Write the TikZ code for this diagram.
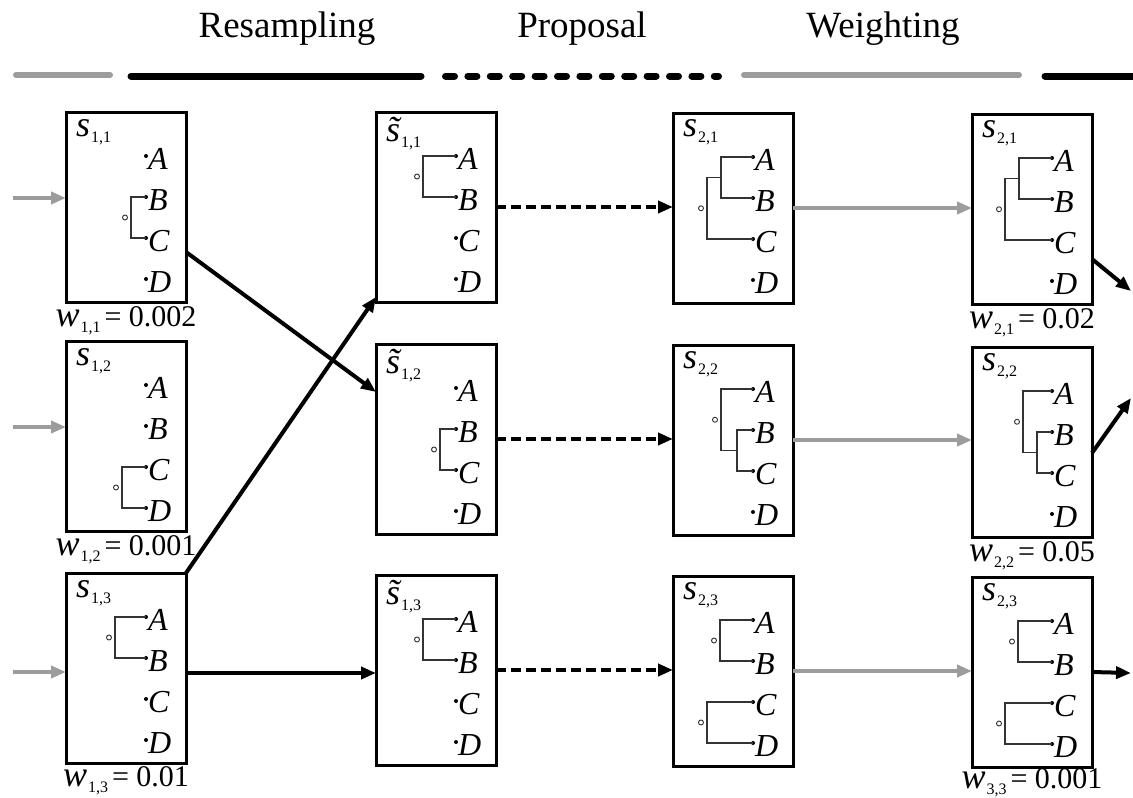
\documentclass[tikz,border=0pt]{standalone}
\usepackage{fontspec}
\setmainfont{Liberation Serif}
\usetikzlibrary{arrows.meta,calc}
\definecolor{lgray}{HTML}{9C9C9C}
\definecolor{tgray}{HTML}{333333}
\tikzset{
 pbox/.style={draw=black, line width=3pt, minimum width=120pt, minimum height=190pt, inner sep=0pt, outer sep=0pt},
 leaftxt/.style={font=\fontsize{32}{32}\selectfont\itshape, inner sep=0pt},
 lbl/.style={inner sep=0pt},
 wl/.style={inner sep=0pt},
 hdr/.style={font=\fontsize{37}{37}\selectfont, inner sep=0pt},
 treeln/.style={draw=tgray, line width=1.5pt},
 rootc/.style={circle, draw=tgray, fill=white, line width=0.9pt, minimum size=5pt, inner sep=0pt},
 grayarrow/.style={draw=lgray, line width=4.5pt, -{Triangle[length=15pt,width=12pt]}},
 blackarrow/.style={draw=black, line width=4pt, -{Triangle[length=15pt,width=12pt]}},
 dasharrow/.style={draw=black, line width=4pt, dash pattern=on 10pt off 5pt, -{Triangle[length=15pt,width=12pt]}},
}
\newcommand\slab[2]{{\fontsize{36}{36}\selectfont\itshape #1}\kern1pt\raisebox{-6pt}{\fontsize{16}{16}\selectfont #2}}
\newcommand\wlab[2]{{\fontsize{36}{36}\selectfont\itshape w}\kern1pt\raisebox{-6pt}{\fontsize{16}{16}\selectfont #1}\kern4pt{\fontsize{30}{30}\selectfont = #2}}
\newcommand\particle[5]{%
 \node[pbox, anchor=north west] (#1) at (#2,#3) {};
 \foreach \L [count=\k from 0] in {A,B,C,D} {
   \coordinate (#1-\L) at (#2+80,#3+44+41*\k);
   \fill[black] (#1-\L) circle (2pt);
   \node[leaftxt, anchor=base west] (#1-t\L) at ([shift={(2,13)}]#1-\L) {\L};
 }
 \node[lbl, anchor=base west] (#1-lab) at (#2+10,#3+#5) {#4};
}
\newcommand\cherry[4]{\draw[treeln] (#1-#2) -- ++(#4-80,0) |- (#1-#3);}
\newcommand\rootnode[5]{\node[rootc] (#1-r#5) at ($(#1-#2)!0.5!(#1-#3)+(#4-80,0)$) {};}
\begin{document}
\begin{tikzpicture}[x=1pt,y=-1pt]
\useasboundingbox[fill=white] (0,0) rectangle (1133,798);
% header
\node[hdr, anchor=base] (h1) at (287,37) {Resampling};
\node[hdr, anchor=base] (h2) at (582,37) {Proposal};
\node[hdr, anchor=base] (h3) at (883,37) {Weighting};
\draw[lgray, line width=6pt, line cap=round] (16,75) -- (110,75);
\draw[black, line width=7pt, line cap=round] (131,76) -- (421,76);
\draw[black, line width=7pt, line cap=round, dash pattern=on 9pt off 13.4pt] (445.5,76) -- (718.5,76);
\draw[lgray, line width=6pt, line cap=round] (744,75) -- (1019,75);
\draw[black, line width=7pt, line cap=round] (1045,76) -- (1140,76);
% particles
\particle{a1}{66}{112}{\slab{s}{1,1}}{24}
\particle{a2}{66}{341}{\slab{s}{1,2}}{24}
\particle{a3}{66}{573}{\slab{s}{1,3}}{24}
\particle{b1}{376}{112}{\slab{\~{s}}{1,1}}{29}
\particle{b2}{376}{344}{\slab{\~{s}}{1,2}}{29}
\particle{b3}{376}{575}{\slab{\~{s}}{1,3}}{29}
\particle{c1}{673}{113}{\slab{s}{2,1}}{23}
\particle{c2}{673}{345}{\slab{s}{2,2}}{23}
\particle{c3}{673}{576}{\slab{s}{2,3}}{23}
\particle{d1}{972}{114}{\slab{s}{2,1}}{23}
\particle{d2}{972}{347}{\slab{s}{2,2}}{23}
\particle{d3}{972}{577}{\slab{s}{2,3}}{23}
% weights
\node[wl, anchor=base] (a1-w) at ([yshift=-24pt]a1.south) {\wlab{1,1}{0.002}};
\node[wl, anchor=base] (a2-w) at ([yshift=-24pt]a2.south) {\wlab{1,2}{0.001}};
\node[wl, anchor=base] (a3-w) at ([yshift=-23pt]a3.south) {\wlab{1,3}{0.01}};
\node[wl, anchor=base] (d1-w) at ([yshift=-24pt]d1.south) {\wlab{2,1}{0.02}};
\node[wl, anchor=base] (d2-w) at ([yshift=-24pt]d2.south) {\wlab{2,2}{0.05}};
\node[wl, anchor=base] (d3-w) at ([yshift=-21pt]d3.south) {\wlab{3,3}{0.001}};
% trees
\cherry{a1}{B}{C}{65}\rootnode{a1}{B}{C}{59}{1}
\cherry{a2}{C}{D}{56}\rootnode{a2}{C}{D}{50}{1}
\cherry{a3}{A}{B}{49}\rootnode{a3}{A}{B}{43}{1}
\cherry{b1}{A}{B}{47}\rootnode{b1}{A}{B}{41}{1}
\cherry{b2}{B}{C}{64}\rootnode{b2}{B}{C}{58}{1}
\cherry{b3}{A}{B}{47}\rootnode{b3}{A}{B}{41}{1}
% ((A,B),C)
\cherry{c1}{A}{B}{48}
\draw[treeln] ($(c1-A)!0.5!(c1-B)+(48-80,0)$) -- ++(34-48,0) |- (c1-C);
\node[rootc] (c1-r1) at ($(c1-A)!1.25!(c1-B)+(28-80,0)$) {};
\cherry{d1}{A}{B}{47}
\draw[treeln] ($(d1-A)!0.5!(d1-B)+(47-80,0)$) -- ++(33-47,0) |- (d1-C);
\node[rootc] (d1-r1) at ($(d1-A)!1.25!(d1-B)+(27-80,0)$) {};
% (A,(B,C))
\cherry{c2}{B}{C}{64}
\draw[treeln] (c2-A) -- ++(48-80,0) |- ($(c2-B)!0.5!(c2-C)+(64-80,0)$);
\node[rootc] (c2-r1) at ($(c2-A)!0.75!(c2-B)+(42-80,0)$) {};
\cherry{d2}{B}{C}{65}
\draw[treeln] (d2-A) -- ++(51-80,0) |- ($(d2-B)!0.5!(d2-C)+(65-80,0)$);
\node[rootc] (d2-r1) at ($(d2-A)!0.75!(d2-B)+(45-80,0)$) {};
% (A,B),(C,D)
\cherry{c3}{A}{B}{47}\rootnode{c3}{A}{B}{41}{1}
\cherry{c3}{C}{D}{34}\rootnode{c3}{C}{D}{28}{2}
\cherry{d3}{A}{B}{46}\rootnode{d3}{A}{B}{40}{1}
\cherry{d3}{C}{D}{33}\rootnode{d3}{C}{D}{27}{2}
% input arrows
\coordinate (in1) at (13,198);
\coordinate (in2) at (13,427);
\coordinate (in3) at (13,672);
\draw[grayarrow] (in1) -- (in1 -| a1.west);
\draw[grayarrow] (in2) -- (in2 -| a2.west);
\draw[grayarrow] (in3) -- (in3 -| a3.west);
% resampling
\draw[blackarrow] ([yshift=-45pt]a1.east) -- ([yshift=47pt]b2.west);
\draw[blackarrow] (a3.north east) -- ([yshift=5pt]b1.south west);
\coordinate (r3) at ([yshift=-5pt]a3.east);
\draw[blackarrow] (r3) -- (r3 -| b3.west);
% proposal
\draw[dasharrow] (b1.east) -- (b1.east -| c1.west);
\draw[dasharrow] (b2.east) -- (b2.east -| c2.west);
\draw[dasharrow] (b3.east) -- (b3.east -| c3.west);
% weighting
\draw[grayarrow] (c1.east) -- (c1.east -| d1.west);
\draw[grayarrow] (c2.east) -- (c2.east -| d2.west);
\draw[grayarrow] (c3.east) -- (c3.east -| d3.west);
% output
\coordinate (o1) at (1131,291);
\coordinate (o2) at (1131,398);
\coordinate (o3) at (1131,673);
\draw[blackarrow] ([yshift=-50pt]d1.east) -- (o1);
\draw[blackarrow] ([yshift=-11pt]d2.east) -- (o2);
\draw[blackarrow] (d3.east) -- (o3);
\end{tikzpicture}
\end{document}
